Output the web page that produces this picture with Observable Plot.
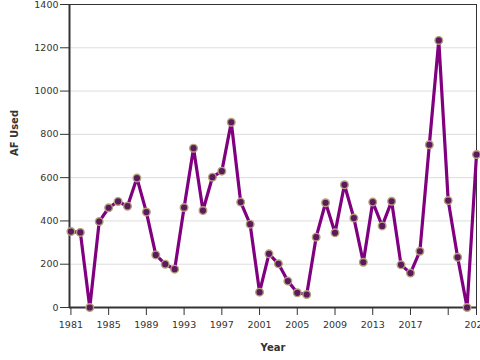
<!DOCTYPE html>
<html>
<head>
<meta charset="utf-8">
<script src="https://cdn.jsdelivr.net/npm/d3@7"></script>
<script src="https://cdn.jsdelivr.net/npm/@observablehq/plot@0.6"></script>
<style>
  html, body { margin: 0; padding: 0; background: #fff; }
  #chart { width: 480px; height: 360px; overflow: hidden; }
</style>
</head>
<body>
<div id="chart"></div>
<script>
const years = [1981,1982,1983,1984,1985,1986,1987,1988,1989,1990,1991,1992,1993,1994,1995,1996,1997,1998,1999,2000,2001,2002,2003,2004,2005,2006,2007,2008,2009,2010,2011,2012,2013,2014,2015,2016,2017,2018,2019,2020,2021,2022,2023,2024];
const afUsed = [351,347,0,397,461,490,468,598,441,243,200,177,462,736,448,602,630,856,487,385,71,248,202,122,68,60,325,484,345,567,413,209,487,377,491,197,159,260,752,1234,494,232,0,707];
const xTicks = [1981,1985,1989,1993,1997,2001,2005,2009,2013,2017,2021,2024];
const xTickLabels = ["1981","1985","1989","1993","1997","2001","2005","2009","2013","2017","","2024"];
const yTicks = [0,200,400,600,800,1000,1200,1400];

const data = years.map((y, i) => ({Year: y, AF: afUsed[i]}));
const labelOf = new Map(xTicks.map((t, i) => [t, xTickLabels[i]]));

const chart = Plot.plot({
  width: 480,
  height: 360,
  marginLeft: 69,
  marginRight: 4,
  marginTop: 4,
  marginBottom: 53,
  style: {fontFamily: "DejaVu Sans", fontSize: "9px", color: "#333", background: "#fff"},
  x: {domain: [1980.85, 2024], range: [69, 476]},
  y: {domain: [0, 1400]},
  marks: [
    Plot.gridY(yTicks, {stroke: "#ddd", strokeOpacity: 1}),
    Plot.frame({stroke: "#333", strokeWidth: 1}),
    Plot.axisY(yTicks, {tickSize: 9, tickPadding: 2, fontSize: 9.5, tickFormat: d => String(d), label: null, stroke: "#333"}),
    Plot.axisX(xTicks, {tickSize: 8, tickPadding: 6, fontSize: 9.5, tickFormat: d => labelOf.get(d), label: null, stroke: "#333"}),
    Plot.text(["AF Used"], {frameAnchor: "left", dx: -55, rotate: -90, fontWeight: "bold", fontSize: 10, fill: "#333"}),
    Plot.text(["Year"], {frameAnchor: "bottom", dy: 43, fontWeight: "bold", fontSize: 10, fill: "#333"}),
    Plot.ruleX([1980.85], {stroke: "#333", strokeWidth: 2}),
    Plot.ruleY([0], {stroke: "#333", strokeWidth: 2}),
    Plot.line(data, {x: "Year", y: "AF", stroke: "#800080", strokeWidth: 3.2}),
    Plot.dot(data, {x: "Year", y: "AF", r: 3.8, fill: "#5c1a5c", stroke: "#b3a17c", strokeWidth: 1.4})
  ]
});
document.getElementById("chart").appendChild(chart);
</script>
</body>
</html>
